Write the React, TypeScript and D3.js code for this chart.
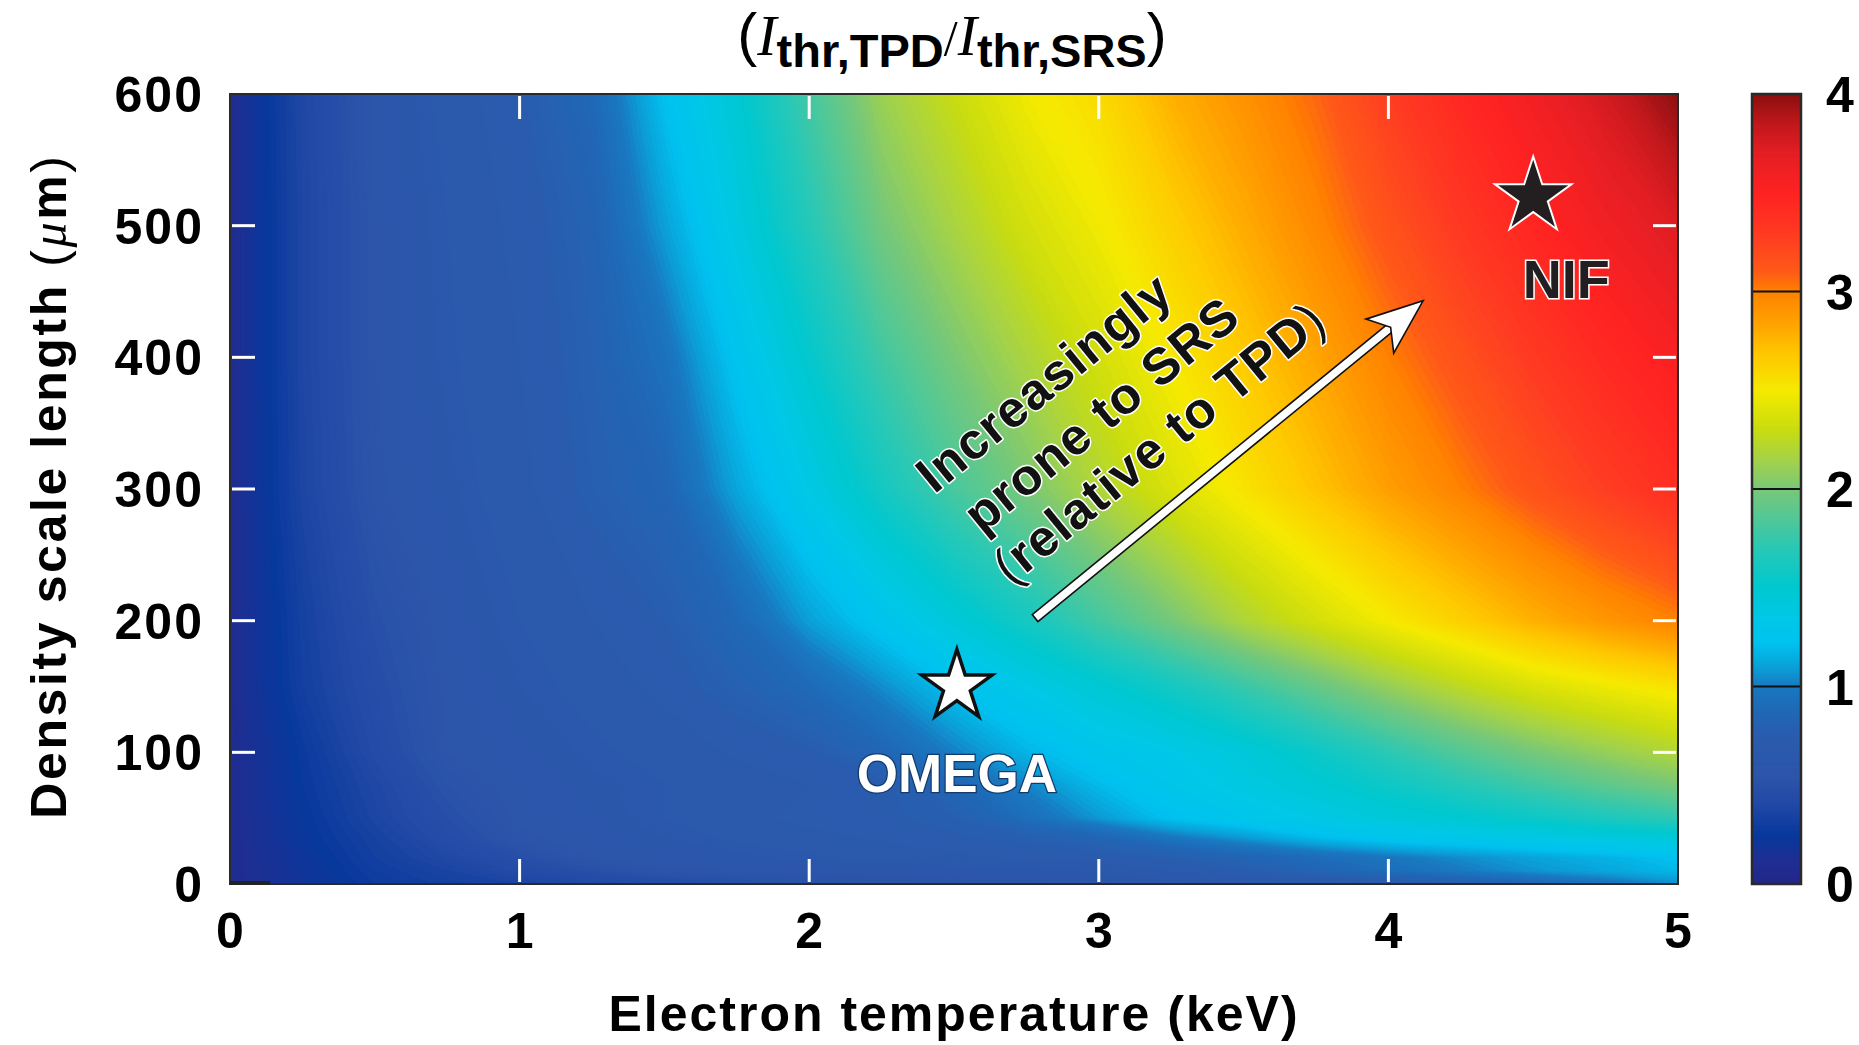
import React, { useEffect, useRef } from "react";
import * as d3 from "d3";

// grid the ratio was read on: electron temperature (keV) and density scale length (um)
const teGrid = [0, 0.25, 0.5, 0.75, 1, 1.25, 1.5, 1.75, 2, 2.25, 2.5, 2.75, 3, 3.25, 3.5, 3.75, 4, 4.25, 4.5, 4.75, 5];
const lGrid = [0, 10, 20, 35, 50, 75, 100, 150, 200, 300, 400, 500, 600];

// I_thr,TPD / I_thr,SRS along rows of constant L (one value per teGrid entry)
const ratioL0 = [0.10, 0.19, 0.28, 0.33, 0.36, 0.40, 0.43, 0.47, 0.50, 0.52, 0.53, 0.55, 0.57, 0.59, 0.62, 0.66, 0.70, 0.76, 0.85, 0.95, 1.05];
const ratioL10 = [0.10, 0.20, 0.30, 0.36, 0.43, 0.49, 0.55, 0.56, 0.57, 0.58, 0.59, 0.60, 0.64, 0.70, 0.76, 0.84, 0.92, 1.00, 1.07, 1.12, 1.18];
const ratioL20 = [0.10, 0.21, 0.32, 0.40, 0.48, 0.56, 0.58, 0.61, 0.63, 0.66, 0.68, 0.71, 0.73, 0.77, 0.84, 0.91, 0.98, 1.05, 1.11, 1.16, 1.22];
const ratioL35 = [0.10, 0.23, 0.34, 0.45, 0.55, 0.58, 0.62, 0.65, 0.68, 0.71, 0.75, 0.78, 0.85, 0.98, 1.08, 1.19, 1.27, 1.31, 1.36, 1.40, 1.45];
const ratioL50 = [0.10, 0.24, 0.37, 0.48, 0.57, 0.60, 0.64, 0.68, 0.72, 0.75, 0.78, 0.93, 1.08, 1.22, 1.30, 1.36, 1.43, 1.49, 1.56, 1.64, 1.72];
const ratioL75 = [0.10, 0.26, 0.39, 0.52, 0.58, 0.61, 0.64, 0.67, 0.70, 0.74, 0.86, 1.03, 1.19, 1.30, 1.38, 1.47, 1.57, 1.68, 1.79, 1.90, 2.00];
const ratioL100 = [0.10, 0.27, 0.43, 0.56, 0.59, 0.63, 0.66, 0.71, 0.75, 0.86, 1.02, 1.17, 1.28, 1.34, 1.43, 1.56, 1.71, 1.86, 1.99, 2.10, 2.20];
const ratioL150 = [0.10, 0.32, 0.46, 0.57, 0.62, 0.66, 0.72, 0.80, 0.90, 1.05, 1.22, 1.35, 1.47, 1.60, 1.76, 1.93, 2.10, 2.25, 2.38, 2.47, 2.55];
const ratioL200 = [0.10, 0.33, 0.49, 0.58, 0.64, 0.70, 0.76, 0.88, 1.10, 1.27, 1.44, 1.61, 1.80, 1.99, 2.19, 2.35, 2.50, 2.64, 2.78, 2.90, 3.00];
const ratioL300 = [0.10, 0.37, 0.55, 0.61, 0.68, 0.78, 0.85, 1.12, 1.36, 1.60, 1.82, 2.00, 2.20, 2.38, 2.54, 2.70, 2.86, 3.00, 3.15, 3.28, 3.40];
const ratioL400 = [0.10, 0.38, 0.56, 0.63, 0.70, 0.80, 0.95, 1.25, 1.52, 1.79, 2.00, 2.18, 2.35, 2.51, 2.67, 2.83, 3.00, 3.16, 3.31, 3.44, 3.55];
const ratioL500 = [0.10, 0.38, 0.56, 0.64, 0.72, 0.82, 1.10, 1.39, 1.68, 1.98, 2.17, 2.35, 2.48, 2.64, 2.80, 2.97, 3.15, 3.32, 3.47, 3.60, 3.73];
const ratioL600 = [0.10, 0.39, 0.57, 0.66, 0.75, 0.88, 1.22, 1.47, 1.80, 2.12, 2.30, 2.48, 2.58, 2.78, 2.92, 3.07, 3.28, 3.45, 3.60, 3.78, 4.00];

const xTicks = [0, 1, 2, 3, 4, 5];
const yTicks = [0, 100, 200, 300, 400, 500, 600];
const barTicks = [0, 1, 2, 3, 4];

// colour bar
const cmapStops = [0, 0.12, 0.25, 0.4, 0.55, 0.75, 0.88, 1.0, 1.1, 1.22, 1.35, 1.5, 1.7, 1.85, 2.0, 2.15, 2.3, 2.5, 2.7, 2.85, 3.0, 3.1, 3.3, 3.5, 3.7, 3.85, 4.0];
const cmapColors = ["#24268a", "#1f2e92", "#07389c", "#2148a6", "#2c55aa", "#2a5cae", "#1f68b6", "#1a78c0", "#0aa0d8", "#00c2f0", "#00c8e6", "#00c8d0", "#28c8b6", "#50c898", "#78c878", "#a4d248", "#c8dc10", "#f5ea00", "#ffc400", "#ffa000", "#ff8200", "#ff5a18", "#ff3a22", "#ff2222", "#e41e24", "#c0181c", "#8c0f0f"];

const facilityNames = ["OMEGA", "NIF"];
const facilityTe = [2.51, 4.5];
const facilityL = [150, 522];

const arrowTe = [2.78, 4.12];
const arrowL = [202, 443];
const noteLines = ["Increasingly", "prone to SRS", "(relative to TPD)"];
const noteTe = [2.432, 2.596, 2.696];
const noteL = [295.6, 265.2, 226.1];

const SANS = "'Liberation Sans', Arial, Helvetica, sans-serif";
const SERIF = "'Liberation Serif', 'Times New Roman', serif";

export default function App() {
  const svgRef = useRef<SVGSVGElement>(null);

  useEffect(() => {
    const svg = d3.select(svgRef.current);
    svg.selectAll("*").remove();

    const left = 230, right = 1678, top = 94, bottom = 884;
    const x = d3.scaleLinear().domain([0, 5]).range([left, right]);
    const y = d3.scaleLinear().domain([0, 600]).range([bottom, top]);
    const color = d3
      .scaleLinear<string>()
      .domain(cmapStops)
      .range(cmapColors)
      .interpolate(d3.interpolateRgb)
      .clamp(true);

    // ---- heat map from the grid, as filled contour bands
    const rows = [ratioL0, ratioL10, ratioL20, ratioL35, ratioL50, ratioL75, ratioL100, ratioL150, ratioL200, ratioL300, ratioL400, ratioL500, ratioL600];
    const nx = teGrid.length;
    const ny = lGrid.length;
    const step = 0.02;
    const bands = d3
      .contours()
      .size([nx, ny])
      .thresholds(d3.range(0, 4, step))(rows.flat());

    const teOfIdx = d3.scaleLinear().domain(d3.range(nx)).range(teGrid);
    const lOfIdx = d3.scaleLinear().domain(d3.range(ny)).range(lGrid);
    const toScreen = d3.geoTransform({
      point(px: number, py: number) {
        const ix = Math.max(0, Math.min(nx - 1, px - 0.5));
        const iy = Math.max(0, Math.min(ny - 1, py - 0.5));
        this.stream.point(x(teOfIdx(ix)), y(lOfIdx(iy)));
      },
    });
    const path = d3.geoPath(toScreen);

    svg
      .append("defs")
      .append("clipPath")
      .attr("id", "plotClip")
      .append("rect")
      .attr("x", left)
      .attr("y", top)
      .attr("width", right - left)
      .attr("height", bottom - top);

    svg
      .append("g")
      .attr("clip-path", "url(#plotClip)")
      .selectAll("path")
      .data(bands)
      .join("path")
      .attr("d", (d) => path(d as any))
      .attr("fill", (d) => color(d.value + step / 2))
      .attr("stroke", "none");

    // ---- white inner ticks
    const ticks = svg.append("g").attr("stroke", "#fff").attr("stroke-width", 3);
    yTicks.slice(1, -1).forEach((v) => {
      ticks.append("line").attr("x1", left + 2).attr("x2", left + 25).attr("y1", y(v)).attr("y2", y(v));
      ticks.append("line").attr("x1", right - 25).attr("x2", right - 2).attr("y1", y(v)).attr("y2", y(v));
    });
    xTicks.slice(1, -1).forEach((v) => {
      ticks.append("line").attr("x1", x(v)).attr("x2", x(v)).attr("y1", bottom - 2).attr("y2", bottom - 25);
      ticks.append("line").attr("x1", x(v)).attr("x2", x(v)).attr("y1", top + 2).attr("y2", top + 25);
    });

    svg
      .append("rect")
      .attr("x", left)
      .attr("y", top)
      .attr("width", right - left)
      .attr("height", bottom - top)
      .attr("fill", "none")
      .attr("stroke", "#2a2a2a")
      .attr("stroke-width", 2);
    // short dark stub at the origin, as in the original
    svg
      .append("line")
      .attr("x1", left)
      .attr("x2", left + 40)
      .attr("y1", bottom - 1)
      .attr("y2", bottom - 1)
      .attr("stroke", "#222")
      .attr("stroke-width", 4);

    // ---- tick labels
    const labelStyle = (s: any) =>
      s
        .attr("font-family", SANS)
        .attr("font-weight", "bold")
        .attr("font-size", 50)
        .attr("letter-spacing", 2)
        .attr("fill", "#000");

    svg
      .append("g")
      .selectAll("text")
      .data(yTicks)
      .join("text")
      .call(labelStyle)
      .attr("text-anchor", "end")
      .attr("x", 204)
      .attr("y", (d) => y(d) + 18)
      .text((d) => d);

    svg
      .append("g")
      .selectAll("text")
      .data(xTicks)
      .join("text")
      .call(labelStyle)
      .attr("text-anchor", "middle")
      .attr("x", (d) => x(d) + 1)
      .attr("y", 948)
      .text((d) => d);

    // ---- axis titles
    svg
      .append("text")
      .call(labelStyle)
      .attr("text-anchor", "middle")
      .attr("x", 954)
      .attr("y", 1031)
      .text("Electron temperature (keV)");

    const yTitle = svg
      .append("text")
      .call(labelStyle)
      .attr("letter-spacing", 2.6)
      .attr("text-anchor", "middle")
      .attr("transform", "translate(66,486) rotate(-90)");
    yTitle.append("tspan").text("Density scale length ");
    yTitle.append("tspan").attr("font-weight", "normal").text("(");
    yTitle.append("tspan").attr("font-family", SERIF).attr("font-style", "italic").attr("font-weight", "normal").text("\u03bc");
    yTitle.append("tspan").text("m");
    yTitle.append("tspan").attr("font-weight", "normal").text(")");

    // ---- title
    const title = svg
      .append("text")
      .attr("text-anchor", "middle")
      .attr("x", 952)
      .attr("y", 55)
      .attr("fill", "#000");
    const sub = (t: string, dy: number) =>
      title.append("tspan").attr("font-family", SANS).attr("font-weight", "bold").attr("font-size", 47).attr("dy", dy).text(t);
    title.append("tspan").attr("font-family", SANS).attr("font-size", 60).text("(");
    title.append("tspan").attr("font-family", SERIF).attr("font-style", "italic").attr("font-size", 58).text("I");
    sub("thr,TPD", 12);
    title.append("tspan").attr("font-family", SERIF).attr("font-size", 50).attr("dy", -12).text("/");
    title.append("tspan").attr("font-family", SERIF).attr("font-style", "italic").attr("font-size", 58).text("I");
    sub("thr,SRS", 12);
    title.append("tspan").attr("font-family", SANS).attr("font-size", 60).attr("dy", -12).text(")");

    // ---- arrow
    const p0: [number, number] = [x(arrowTe[0]), y(arrowL[0])];
    const p1: [number, number] = [x(arrowTe[1]), y(arrowL[1])];
    const len = Math.hypot(p1[0] - p0[0], p1[1] - p0[1]);
    const u = [(p1[0] - p0[0]) / len, (p1[1] - p0[1]) / len];
    const n = [-u[1], u[0]];
    const at = (a: number, b: number) => [p1[0] - u[0] * a + n[0] * b, p1[1] - u[1] * a + n[1] * b];
    const headLen = 56, headHalf = 22, notch = 14, shaftHalf = 4.5;
    const shaft = [
      [p0[0] + n[0] * shaftHalf, p0[1] + n[1] * shaftHalf],
      at(headLen - notch - 2, shaftHalf),
      at(headLen - notch - 2, -shaftHalf),
      [p0[0] - n[0] * shaftHalf, p0[1] - n[1] * shaftHalf],
    ];
    const head = [at(0, 0), at(headLen, headHalf), at(headLen - notch, 0), at(headLen, -headHalf)];
    const poly = d3.line().curve(d3.curveLinearClosed);
    svg.append("path").attr("d", poly(shaft as any)).attr("fill", "#fff").attr("stroke", "#111").attr("stroke-width", 1.6);
    svg.append("path").attr("d", poly(head as any)).attr("fill", "#fff").attr("stroke", "#111").attr("stroke-width", 1.6).attr("stroke-linejoin", "miter");

    // ---- rotated note
    const angle = (Math.atan2(p1[1] - p0[1], p1[0] - p0[0]) * 180) / Math.PI;
    noteLines.forEach((line, i) => {
      const tx = x(noteTe[i]);
      const ty = y(noteL[i]);
      const t = svg
        .append("text")
        .attr("transform", `translate(${tx},${ty}) rotate(${angle})`)
        .attr("font-family", SANS)
        .attr("font-weight", "bold")
        .attr("font-size", 51)
        .attr("letter-spacing", 1.2)
        .attr("fill", "#111")
        .attr("stroke", "#fff")
        .attr("stroke-width", 3)
        .attr("paint-order", "stroke")
        .attr("stroke-linejoin", "round");
      if (line.startsWith("(")) {
        t.append("tspan").attr("font-weight", "normal").text("(");
        t.append("tspan").text(line.slice(1, -1));
        t.append("tspan").attr("font-weight", "normal").text(")");
      } else {
        t.text(line);
      }
    });

    // ---- facility stars and labels
    const star = d3.symbol().type(d3.symbolStar).size(1537);
    facilityNames.forEach((name, i) => {
      const cx = x(facilityTe[i]);
      const cy = y(facilityL[i]);
      const isOmega = name === "OMEGA";
      svg
        .append("path")
        .attr("d", star())
        .attr("transform", `translate(${cx},${cy})`)
        .attr("fill", isOmega ? "#fff" : "#231f20")
        .attr("stroke", isOmega ? "#111" : "#fff")
        .attr("stroke-width", isOmega ? 3.5 : 4)
        .attr("paint-order", isOmega ? "fill" : "stroke");
      svg
        .append("text")
        .attr("text-anchor", "middle")
        .attr("x", isOmega ? cx : cx + 33)
        .attr("y", isOmega ? cy + 105 : cy + 101)
        .attr("font-family", SANS)
        .attr("font-weight", "bold")
        .attr("font-size", isOmega ? 53 : 54)
        .attr("fill", isOmega ? "#fff" : "#231f20")
        .attr("stroke", isOmega ? "#123a6a" : "#fff")
        .attr("stroke-width", isOmega ? 2.5 : 3)
        .attr("paint-order", "stroke")
        .text(name);
    });

    // ---- colour bar
    const bx0 = 1752, bx1 = 1801;
    const yb = d3.scaleLinear().domain([0, 4]).range([bottom, top]);
    const barStep = 0.01;
    svg
      .append("g")
      .selectAll("rect")
      .data(d3.range(0, 4, barStep))
      .join("rect")
      .attr("x", bx0)
      .attr("width", bx1 - bx0)
      .attr("y", (d) => yb(d + barStep) - 0.5)
      .attr("height", yb(0) - yb(barStep) + 1)
      .attr("fill", (d) => color(d + barStep / 2));
    svg
      .append("g")
      .selectAll("line")
      .data(barTicks.slice(1, -1))
      .join("line")
      .attr("x1", bx0)
      .attr("x2", bx1)
      .attr("y1", (d) => yb(d))
      .attr("y2", (d) => yb(d))
      .attr("stroke", "#111")
      .attr("stroke-width", 2);
    svg
      .append("rect")
      .attr("x", bx0)
      .attr("y", top)
      .attr("width", bx1 - bx0)
      .attr("height", bottom - top)
      .attr("fill", "none")
      .attr("stroke", "#2a2a2a")
      .attr("stroke-width", 2.5);
    svg
      .append("g")
      .selectAll("text")
      .data(barTicks)
      .join("text")
      .call(labelStyle)
      .attr("x", 1826)
      .attr("y", (d) => yb(d) + 18)
      .text((d) => d);
  }, []);

  return (
    <svg
      ref={svgRef}
      width={1859}
      height={1045}
      style={{ position: "absolute", left: 0, top: 0, background: "#fff", display: "block" }}
    />
  );
}
